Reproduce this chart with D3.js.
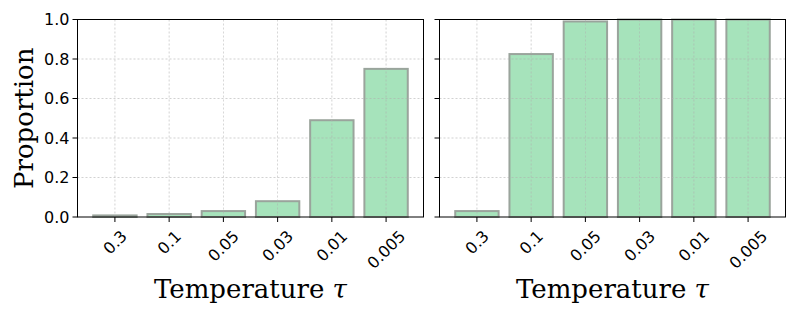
<!DOCTYPE html>
<html>
<head>
<meta charset="utf-8">
<script src="https://cdn.jsdelivr.net/npm/d3@7"></script>
<style>
 body { margin: 0; background: #fff; }
 svg { display: block; }
</style>
</head>
<body>
<script>
 // ==================== data ====================
 var temperatures = ['0.3', '0.1', '0.05', '0.03', '0.01', '0.005'];
 var leftValues  = [0.008, 0.015, 0.03, 0.08, 0.49, 0.75];
 var rightValues = [0.03, 0.825, 0.99, 1.0, 1.0, 1.0];
 var yTicks = [0, 0.2, 0.4, 0.6, 0.8, 1.0];

 // ==================== layout ====================
 var W = 797, H = 319;
 var plotTop = 19.5, plotBottom = 217;
 var panels = [
     {'x0': 77.5, 'x1': 423.5, 'values': leftValues, 'labels': true},
     {'x0': 439.5, 'x1': 785.5, 'values': rightValues, 'labels': false}
 ];

 var svg = d3.select('body').append('svg').attr('width', W).attr('height', H);

 var y = d3.scaleLinear().domain([0, 1]).range([plotBottom, plotTop]);

 panels.forEach(function(p){
     // matplotlib style: bars of width 0.8 at integer positions, 5% margins
     var lo = -0.4 - 0.29, hi = 5.4 + 0.29;
     var x = d3.scaleLinear().domain([lo, hi]).range([p.x0, p.x1]);
     var g = svg.append('g');

     // bars
     g.selectAll('rect.bar').data(p.values).enter().append('rect')
         .attr('x', (d,i) => x(i - 0.4))
         .attr('width', (d,i) => x(i + 0.4) - x(i - 0.4))
         .attr('y', d => y(d))
         .attr('height', d => y(0) - y(d))
         .style('fill', '#a6e3bb')
         .style('stroke', '#9aa49c')
         .style('stroke-width', 2);

     // grid on top
     g.selectAll('line.gx').data(temperatures).enter().append('line')
         .attr('x1', (d,i) => x(i)).attr('x2', (d,i) => x(i))
         .attr('y1', plotTop).attr('y2', plotBottom)
         .style('stroke', '#b0b0b0').style('stroke-width', 0.7)
         .style('stroke-dasharray', '2,2').style('opacity', 0.8);
     g.selectAll('line.gy').data(yTicks.slice(1, 5)).enter().append('line')
         .attr('x1', p.x0).attr('x2', p.x1)
         .attr('y1', d => y(d)).attr('y2', d => y(d))
         .style('stroke', '#b0b0b0').style('stroke-width', 0.7)
         .style('stroke-dasharray', '2,2').style('opacity', 0.8);

     // frame
     g.append('rect').attr('x', p.x0).attr('y', plotTop)
         .attr('width', p.x1 - p.x0).attr('height', plotBottom - plotTop)
         .style('fill', 'none').style('stroke', '#000').style('stroke-width', 1);

     // y ticks
     g.selectAll('line.ty').data(yTicks).enter().append('line')
         .attr('x1', p.x0 - 5).attr('x2', p.x0)
         .attr('y1', d => y(d)).attr('y2', d => y(d))
         .style('stroke', '#000').style('stroke-width', 1);
     if (p.labels){
         g.selectAll('text.ty').data(yTicks).enter().append('text')
             .attr('x', p.x0 - 8).attr('y', d => y(d))
             .attr('dy', '0.36em')
             .attr('text-anchor', 'end')
             .style('font-family', 'DejaVu Sans').style('font-size', '16px')
             .text(d => d.toFixed(1));
     }

     // x ticks
     g.selectAll('line.tx').data(temperatures).enter().append('line')
         .attr('x1', (d,i) => x(i)).attr('x2', (d,i) => x(i))
         .attr('y1', plotBottom).attr('y2', plotBottom + 5)
         .style('stroke', '#000').style('stroke-width', 1);

     // rotated labels: bbox centered on tick, top aligned below tick
     g.selectAll('text.tx').data(temperatures).enter().append('text')
         .attr('text-anchor', 'middle')
         .attr('dy', '0.36em')
         .style('font-family', 'DejaVu Sans').style('font-size', '16px')
         .text(d => d)
         .each(function(d, i){
             var L = this.getComputedTextLength();
             var h = 12;
             var half = (L + h) / Math.SQRT2 / 2;
             var cx = x(i), cy = plotBottom + 12 + half;
             d3.select(this).attr('x', 0).attr('y', 0)
                 .attr('transform', 'translate(' + cx + ',' + cy + ') rotate(-45)');
         });

     // x label
     var xl = g.append('text')
         .attr('x', (p.x0 + p.x1) / 2).attr('y', 298)
         .attr('text-anchor', 'middle')
         .style('font-family', 'DejaVu Serif').style('font-size', '26px');
     xl.append('tspan').text('Temperature ');
     xl.append('tspan').style('font-style', 'italic').text('τ');
 });

 // y label
 svg.append('text')
     .attr('transform', 'translate(33,' + ((plotTop + plotBottom) / 2) + ') rotate(-90)')
     .attr('text-anchor', 'middle')
     .style('font-family', 'DejaVu Serif').style('font-size', '26px')
     .text('Proportion');
</script>
</body>
</html>
